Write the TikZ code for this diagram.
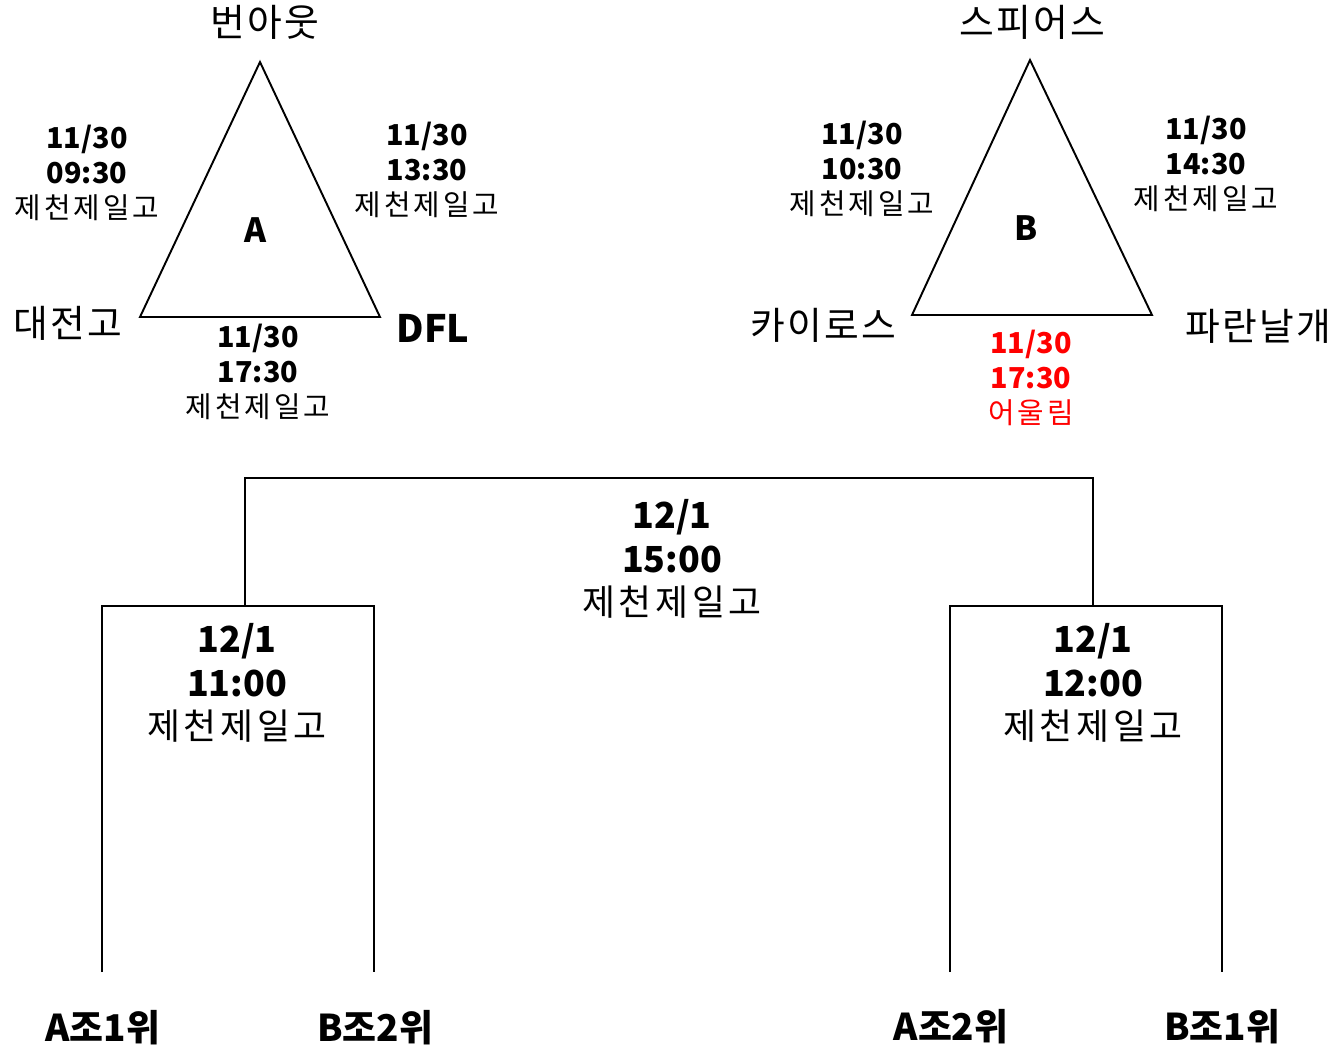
\documentclass[tikz,border=0pt]{standalone}
\usepackage{fontspec}
\setmainfont{Noto Sans CJK KR}
\usetikzlibrary{positioning}
\newcommand{\venue}[1]{{\addfontfeatures{LetterSpace=10}#1}}
\newcommand{\tname}[1]{{\addfontfeatures{LetterSpace=6}#1}}

\begin{document}
\begin{tikzpicture}[
    x=0.02cm, y=-0.02cm,
    team/.style={font=\fontsize{21.5}{26}\selectfont},
    teambold/.style={font=\fontsize{21.5}{26}\selectfont\bfseries},
    grp/.style={font=\fontsize{19}{23}\selectfont\bfseries},
    game/.style={align=center, font=\fontsize{16.4}{19.8}\selectfont},
    final/.style={align=center, font=\fontsize{20.4}{24.9}\selectfont},
    seed/.style={font=\fontsize{21}{25}\selectfont\bfseries},
    line/.style={line width=1.1pt}
]
\useasboundingbox (0,0) rectangle (1335,1048);

% Group A
\coordinate (a1) at (260,62);
\coordinate (a2) at (140,317);
\coordinate (a3) at (380,317);
\draw[line] (a1) -- (a2) -- (a3) -- cycle;
\node[grp] (ga) at (256,230) {A};
\node[team] (burnout) at (265,22) {\tname{번아웃}};
\node[team] (daejeon) at (68,323) {\tname{대전고}};
\node[teambold] (dfl) at (433,328) {DFL};
\node[game] (ga1) at (87,173) {\textbf{11/30}\\\textbf{09:30}\\\venue{제천제일고}};
\node[game] (ga2) at (427,170) {\textbf{11/30}\\\textbf{13:30}\\\venue{제천제일고}};
\node[game] (ga3) at (258,372) {\textbf{11/30}\\\textbf{17:30}\\\venue{제천제일고}};

% Group B
\coordinate (b1) at (1030,60);
\coordinate (b2) at (912,315);
\coordinate (b3) at (1152,315);
\draw[line] (b1) -- (b2) -- (b3) -- cycle;
\node[grp] (gb) at (1026,228) {B};
\node[team] (spears) at (1032,22) {\tname{스피어스}};
\node[team] (kairos) at (823,325) {\tname{카이로스}};
\node[team] (paran) at (1258,326) {\tname{파란날개}};
\node[game] (gb1) at (862,169) {\textbf{11/30}\\\textbf{10:30}\\\venue{제천제일고}};
\node[game] (gb2) at (1206,164) {\textbf{11/30}\\\textbf{14:30}\\\venue{제천제일고}};
\node[game, text=red] (gb3) at (1031,378) {\textbf{11/30}\\\textbf{17:30}\\\venue{어울림}};

% Semifinals
\coordinate (l1) at (102,972);
\coordinate (l2) at (102,606);
\coordinate (l3) at (374,606);
\coordinate (l4) at (374,972);
\draw[line] (l1) -- (l2) -- (l3) -- (l4);
\node[final] (semi1) at (237,683) {\textbf{12/1}\\\textbf{11:00}\\\venue{제천제일고}};

\coordinate (r1) at (950,972);
\coordinate (r2) at (950,606);
\coordinate (r3) at (1222,606);
\coordinate (r4) at (1222,972);
\draw[line] (r1) -- (r2) -- (r3) -- (r4);
\node[final] (semi2) at (1093,683) {\textbf{12/1}\\\textbf{12:00}\\\venue{제천제일고}};

% Final
\coordinate (lm) at (245,606);
\coordinate (tl) at (245,478);
\coordinate (tr) at (1093,478);
\coordinate (rm) at (1093,606);
\draw[line] (lm) -- (tl) -- (tr) -- (rm);
\node[final] (fin) at (672,559) {\textbf{12/1}\\\textbf{15:00}\\\venue{제천제일고}};

% Seeds
\node[seed] (sa1) at (103,1028) {A조1위};
\node[seed] (sb2) at (375,1028) {B조2위};
\node[seed] (sa2) at (951,1027) {A조2위};
\node[seed] (sb1) at (1222,1027) {B조1위};

\end{tikzpicture}
\end{document}
